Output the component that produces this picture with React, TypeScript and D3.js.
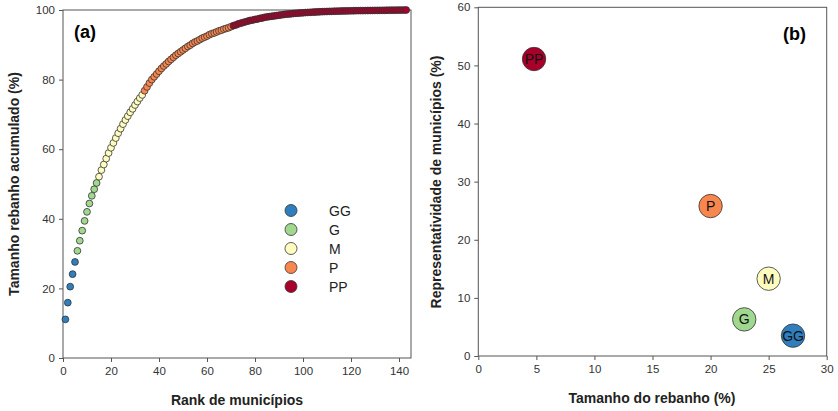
import React, { useEffect, useRef } from "react";
import * as d3 from "d3";

// cumulative herd size (%) by municipality rank, split by size class
const ggCum = [11.1, 15.9, 20.5, 24.1, 27.6];
const gCum = [30.8, 33.7, 36.6, 39.4, 42.0, 44.4, 46.6, 48.5, 50.3];
const mCum = [52.1, 54.0, 55.6, 57.3, 58.9, 60.4, 61.8, 63.2, 64.6, 65.9, 67.2, 68.4, 69.5, 70.6, 71.6, 72.7, 73.7, 74.7, 75.6];
const pCum = [
  76.8, 77.9, 79.0, 80.0, 80.8, 81.6, 82.4, 83.2, 83.9, 84.5, 85.2, 85.8, 86.4, 87.0, 87.5, 88.0, 88.5, 89.0, 89.5,
  89.9, 90.4, 90.8, 91.1, 91.5, 91.9, 92.2, 92.5, 92.9, 93.2, 93.4, 93.7, 94.0, 94.2, 94.5, 94.7, 94.9, 95.2,
];
const ppCum = [
  95.5, 95.7, 96.0, 96.2, 96.4, 96.6, 96.8, 97.0, 97.1, 97.3, 97.4, 97.6, 97.7, 97.9, 98.0, 98.1, 98.2, 98.3, 98.4,
  98.5, 98.6, 98.7, 98.8, 98.85, 98.9, 99.0, 99.05, 99.1, 99.16, 99.2, 99.26, 99.3, 99.34, 99.38, 99.42, 99.45,
  99.49, 99.52, 99.55, 99.57, 99.6, 99.62, 99.65, 99.67, 99.69, 99.71, 99.72, 99.74, 99.76, 99.77, 99.79, 99.8,
  99.81, 99.82, 99.83, 99.84, 99.85, 99.86, 99.87, 99.88, 99.89, 99.9, 99.91, 99.92, 99.93, 99.94, 99.95, 99.96,
  99.97, 99.98, 99.99, 99.99, 100.0,
];

const classes = ["GG", "G", "M", "P", "PP"];
const classColors = ["#2f7fbf", "#9fd88e", "#fffcc0", "#f8874f", "#a8002a"];
const cumSeries = [ggCum, gCum, mCum, pCum, ppCum];

// panel (b): herd size (%) vs share of municipalities (%)
const herdSize = [27.1, 22.9, 25.0, 20.0, 4.8];
const muniShare = [3.5, 6.3, 13.3, 25.8, 51.1];

const xTicksA = [0, 20, 40, 60, 80, 100, 120, 140];
const yTicksA = [0, 20, 40, 60, 80, 100];
const xTicksB = [0, 5, 10, 15, 20, 25, 30];
const yTicksB = [0, 10, 20, 30, 40, 50, 60];

const FONT = "'Liberation Sans', Arial, sans-serif";

export default function App() {
  const ref = useRef<SVGSVGElement>(null);

  useEffect(() => {
    const svg = d3.select(ref.current);
    svg.selectAll("*").remove();

    // flatten into ranked points
    const points: { rank: number; v: number; c: number }[] = [];
    let rank = 1;
    cumSeries.forEach((arr, ci) => {
      arr.forEach((v) => {
        points.push({ rank: rank, v: v, c: ci });
        rank++;
      });
    });

    // ---------- panel (a)
    const xA = d3.scaleLinear().domain([0, 145]).range([63, 411]);
    const yA = d3.scaleLinear().domain([0, 100]).range([358, 10]);
    const gA = svg.append("g");

    drawFrame(gA, xA, yA, xTicksA, yTicksA);

    gA.selectAll("circle.pt")
      .data(points)
      .join("circle")
      .attr("class", "pt")
      .attr("cx", (d) => xA(d.rank))
      .attr("cy", (d) => yA(d.v))
      .attr("r", 3.4)
      .attr("fill", (d) => classColors[d.c])
      .attr("stroke", "#333")
      .attr("stroke-width", 0.8);

    // legend
    const leg = gA.append("g");
    classes.forEach((name, i) => {
      const y = 210.5 + i * 19;
      leg.append("circle").attr("cx", 291).attr("cy", y).attr("r", 6)
        .attr("fill", classColors[i]).attr("stroke", "#333").attr("stroke-width", 0.8);
      leg.append("text").attr("x", 329).attr("y", y + 5).text(name)
        .style("font-family", FONT).style("font-size", "14px").attr("fill", "#222");
    });

    gA.append("text").attr("x", 74).attr("y", 38).text("(a)")
      .style("font-family", FONT).style("font-size", "18px").style("font-weight", "bold");

    gA.append("text").attr("x", 237).attr("y", 405).attr("text-anchor", "middle")
      .text("Rank de municípios")
      .style("font-family", FONT).style("font-size", "14px").style("font-weight", "bold").attr("fill", "#222");

    gA.append("text")
      .attr("transform", "translate(19,184) rotate(-90)")
      .attr("text-anchor", "middle")
      .text("Tamanho rebanho acumulado (%)")
      .style("font-family", FONT).style("font-size", "14px").style("font-weight", "bold").attr("fill", "#222");

    // ---------- panel (b)
    const xB = d3.scaleLinear().domain([0, 30]).range([478.3, 826.7]);
    const yB = d3.scaleLinear().domain([0, 60]).range([356, 7.3]);
    const gB = svg.append("g");

    drawFrame(gB, xB, yB, xTicksB, yTicksB);

    const bub = gB.selectAll("g.bub")
      .data(classes)
      .join("g")
      .attr("class", "bub")
      .attr("transform", (d, i) => `translate(${xB(herdSize[i])},${yB(muniShare[i])})`);
    bub.append("circle").attr("r", 11.7)
      .attr("fill", (d, i) => classColors[i]).attr("stroke", "#333").attr("stroke-width", 0.8);
    bub.append("text").attr("text-anchor", "middle").attr("y", 5).text((d) => d)
      .style("font-family", FONT).style("font-size", "14px").attr("fill", "#111");

    gB.append("text").attr("x", 783).attr("y", 40).text("(b)")
      .style("font-family", FONT).style("font-size", "18px").style("font-weight", "bold");

    gB.append("text").attr("x", 652).attr("y", 403).attr("text-anchor", "middle")
      .text("Tamanho do rebanho (%)")
      .style("font-family", FONT).style("font-size", "14px").style("font-weight", "bold").attr("fill", "#222");

    gB.append("text")
      .attr("transform", "translate(441,182) rotate(-90)")
      .attr("text-anchor", "middle")
      .text("Representatividade de municípios (%)")
      .style("font-family", FONT).style("font-size", "14px").style("font-weight", "bold").attr("fill", "#222");
  }, []);

  return (
    <svg ref={ref} width={838} height={411}
      style={{ position: "absolute", left: 0, top: 0, background: "#fff" }} />
  );
}

// box + outward ticks on left and bottom
function drawFrame(g: any, x: any, y: any, xt: number[], yt: number[]) {
  const [x0, x1] = x.range();
  const [y0, y1] = y.range();
  g.append("rect").attr("x", x0).attr("y", y1).attr("width", x1 - x0).attr("height", y0 - y1)
    .attr("fill", "none").attr("stroke", "#555").attr("stroke-width", 1);

  const ax = g.append("g").attr("transform", `translate(0,${y0})`)
    .call(d3.axisBottom(x).tickValues(xt).tickSize(4).tickPadding(5).tickSizeOuter(0));
  const ay = g.append("g").attr("transform", `translate(${x0},0)`)
    .call(d3.axisLeft(y).tickValues(yt).tickSize(4).tickPadding(4).tickSizeOuter(0));
  [ax, ay].forEach((a) => {
    a.select(".domain").remove();
    a.selectAll("line").attr("stroke", "#555");
    a.selectAll("text").style("font-family", FONT).style("font-size", "11.5px").attr("fill", "#333");
  });
}
